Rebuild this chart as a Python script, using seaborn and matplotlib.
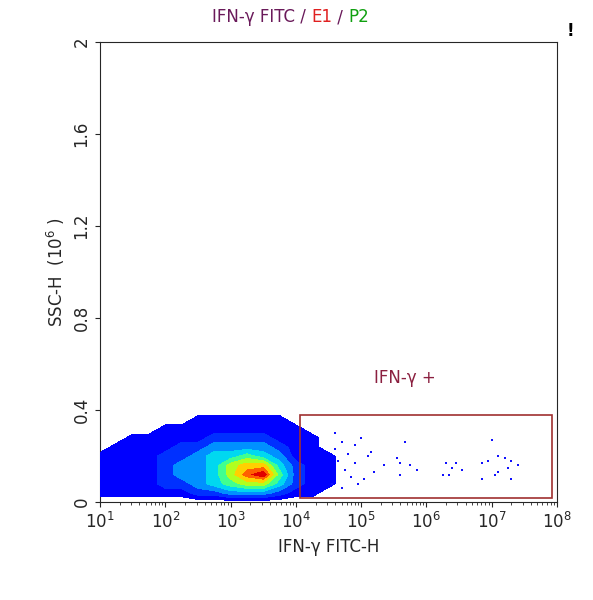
import numpy as np
import matplotlib
matplotlib.use("Agg")
import matplotlib.pyplot as plt
from matplotlib.colors import ListedColormap, BoundaryNorm
import seaborn as sns

sns.set_style("ticks")
plt.rcParams['font.family'] = ['DejaVu Sans']

# density grid (log10 x, SSC-H in 10^6), intensity 0 = empty
grid_logx = [0.75,1.0,1.25,1.5,1.75,2.0,2.25,2.5,2.75,3.0,3.25,3.5,3.75,4.0,4.25,4.5,4.75,5.0,5.25]
grid_y = [0.0,0.04,0.08,0.12,0.16,0.20,0.24,0.28,0.32,0.36,0.40]
density = [
 [0,0,0,0,0,0,0,0,0,0,0,0,0,0,0,0,0,0,0],
 [0,1,1,1,1,1,1,2,2,3,3,3,2,1,1,0,0,0,0],
 [0,1,1,1,1,2,2,3,4,5,6,6,4,2,1,1,0,0,0],
 [0,1,1,1,1,2,3,3,4,6,8,9,5,2,1,1,0,0,0],
 [0,1,1,1,1,2,3,3,4,6,7,7,4,2,1,1,0,0,0],
 [0,1,1,1,1,2,2,3,4,4,5,4,3,1,1,1,0,0,0],
 [0,0,1,1,1,1,2,2,3,3,3,3,2,1,1,0,0,0,0],
 [0,0,0,1,1,1,1,1,2,2,2,2,1,1,1,0,0,0,0],
 [0,0,0,0,0,1,1,1,1,1,1,1,1,1,0,0,0,0,0],
 [0,0,0,0,0,0,0,1,1,1,1,1,1,0,0,0,0,0,0],
 [0,0,0,0,0,0,0,0,0,0,0,0,0,0,0,0,0,0,0],
]
level_colors = ["#0000ff", "#0030ff", "#0090ff", "#00d8f0", "#40ff90",
                "#b0ff20", "#ffd000", "#ff6000", "#e00000"]
# sparse events (log10 x, y)
sparse_logx = [5.67,5.55,5.6,5.75,5.85,5.6,5.35,6.3,6.4,6.45,6.55,6.25,6.35,7.0,6.95,6.85,7.1,7.2,7.3,7.25,7.1,7.05,6.85,7.3,7.4,
               5.05,5.2,5.1,5.15,4.9,4.95,4.6,4.7,4.8,4.65,4.75,4.85,4.55,4.9,5.0,4.7,4.6]
sparse_y = [0.26,0.19,0.17,0.16,0.14,0.12,0.16,0.17,0.15,0.17,0.14,0.12,0.12,0.27,0.18,0.17,0.2,0.19,0.18,0.15,0.13,0.12,0.10,0.10,0.16,
            0.10,0.13,0.20,0.22,0.25,0.08,0.30,0.26,0.21,0.18,0.14,0.11,0.08,0.17,0.28,0.06,0.23]

fig = plt.figure(figsize=(5.93, 6.0), dpi=100)
ax = fig.add_axes([0.169, 0.163, 0.77, 0.767])

X, Y = np.meshgrid(np.array(grid_logx), np.array(grid_y))
D = np.array(density, float)
axl = fig.add_axes(ax.get_position(), frameon=False)
levels = [0.6, 1.5, 2.5, 3.5, 4.5, 5.5, 6.5, 7.5, 8.3, 10]
axl.contourf(X, Y, D, levels=levels, cmap=ListedColormap(level_colors),
             norm=BoundaryNorm(levels, 9))
sns.scatterplot(x=sparse_logx, y=sparse_y, ax=axl, color="#1010ff",
                s=4, marker="s", linewidth=0, legend=False)
axl.set_xlim(1, 8)
axl.set_ylim(0, 2)
axl.set_xticks([]); axl.set_yticks([])
axl.set_xlabel(""); axl.set_ylabel("")

ax.set_xscale("log")
ax.set_xlim(10, 1e8)
ax.set_ylim(0, 2)
ax.set_xticks([10 ** k for k in range(1, 9)])
ax.set_xticklabels([f"$10^{k}$" for k in range(1, 9)], fontsize=12)
ax.set_yticks([0, 0.4, 0.8, 1.2, 1.6, 2])
ax.set_yticklabels(["0", "0.4", "0.8", "1.2", "1.6", "2"], rotation=90, va="center", fontsize=12)
ax.set_xlabel("IFN-γ FITC-H", fontsize=12)
ax.set_ylabel("SSC-H  (10$^6$ )", fontsize=12)

axl.add_patch(plt.Rectangle((4.06, 0.02), 7.92 - 4.06, 0.36,
                            fill=False, edgecolor="#a03030", linewidth=1.2))
axl.text(5.67, 0.52, "IFN-γ +", color="#8b2040", fontsize=12, ha="center")

t1 = fig.text(0.358, 0.963, "IFN-γ FITC / ", color="#6a1a5a", fontsize=12, ha="left")
t2 = axl.annotate("E1", xy=(1, 0), xycoords=t1, color="#e02020", fontsize=12, va="bottom")
t3 = axl.annotate(" / ", xy=(1, 0), xycoords=t2, color="#6a1a5a", fontsize=12, va="bottom")
axl.annotate("P2", xy=(1, 0), xycoords=t3, color="#10a010", fontsize=12, va="bottom")
fig.text(0.955, 0.94, "!", color="black", fontsize=12, fontweight="bold")

fig.savefig("out.png", dpi=100)
